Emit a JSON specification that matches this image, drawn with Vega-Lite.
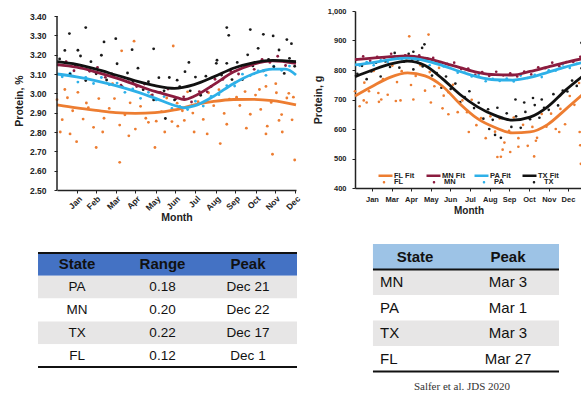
{
  "$schema": "https://vega.github.io/schema/vega-lite/v6.json",
  "background": "white",
  "padding": {"left": 14, "top": 7, "right": 0, "bottom": 0},
  "config": {
    "view": {"stroke": null},
    "font": "Liberation Sans",
    "axis": {"grid": false, "labelColor": "#222", "titleColor": "#222", "domainColor": "#222", "tickColor": "#222", "labelFontWeight": "bold", "titleFontWeight": "bold", "domainWidth": 1.5, "tickWidth": 1, "tickCount": 30, "labelOverlap": false}
  },
  "datasets": {
    "pctFit": [
      {"fit":"FL Fit","day":0,"protein":2.940},{"fit":"FL Fit","day":30,"protein":2.925},{"fit":"FL Fit","day":60,"protein":2.912},{"fit":"FL Fit","day":90,"protein":2.900},{"fit":"FL Fit","day":120,"protein":2.896},{"fit":"FL Fit","day":150,"protein":2.900},{"fit":"FL Fit","day":180,"protein":2.914},{"fit":"FL Fit","day":210,"protein":2.940},{"fit":"FL Fit","day":240,"protein":2.958},{"fit":"FL Fit","day":270,"protein":2.968},{"fit":"FL Fit","day":300,"protein":2.969},{"fit":"FL Fit","day":330,"protein":2.962},{"fit":"FL Fit","day":366,"protein":2.940},
      {"fit":"MN Fit","day":0,"protein":3.148},{"fit":"MN Fit","day":30,"protein":3.135},{"fit":"MN Fit","day":60,"protein":3.110},{"fit":"MN Fit","day":90,"protein":3.080},{"fit":"MN Fit","day":120,"protein":3.045},{"fit":"MN Fit","day":150,"protein":3.010},{"fit":"MN Fit","day":180,"protein":2.982},{"fit":"MN Fit","day":195,"protein":2.968},{"fit":"MN Fit","day":210,"protein":2.985},{"fit":"MN Fit","day":240,"protein":3.045},{"fit":"MN Fit","day":270,"protein":3.110},{"fit":"MN Fit","day":300,"protein":3.150},{"fit":"MN Fit","day":330,"protein":3.168},{"fit":"MN Fit","day":366,"protein":3.155},
      {"fit":"PA Fit","day":0,"protein":3.100},{"fit":"PA Fit","day":30,"protein":3.085},{"fit":"PA Fit","day":60,"protein":3.065},{"fit":"PA Fit","day":90,"protein":3.040},{"fit":"PA Fit","day":120,"protein":3.010},{"fit":"PA Fit","day":150,"protein":2.975},{"fit":"PA Fit","day":180,"protein":2.937},{"fit":"PA Fit","day":195,"protein":2.925},{"fit":"PA Fit","day":210,"protein":2.935},{"fit":"PA Fit","day":240,"protein":2.985},{"fit":"PA Fit","day":270,"protein":3.050},{"fit":"PA Fit","day":300,"protein":3.100},{"fit":"PA Fit","day":330,"protein":3.125},{"fit":"PA Fit","day":350,"protein":3.125},{"fit":"PA Fit","day":366,"protein":3.095},
      {"fit":"TX Fit","day":0,"protein":3.164},{"fit":"TX Fit","day":30,"protein":3.150},{"fit":"TX Fit","day":60,"protein":3.125},{"fit":"TX Fit","day":90,"protein":3.095},{"fit":"TX Fit","day":120,"protein":3.065},{"fit":"TX Fit","day":150,"protein":3.040},{"fit":"TX Fit","day":180,"protein":3.026},{"fit":"TX Fit","day":210,"protein":3.045},{"fit":"TX Fit","day":240,"protein":3.085},{"fit":"TX Fit","day":270,"protein":3.130},{"fit":"TX Fit","day":300,"protein":3.158},{"fit":"TX Fit","day":330,"protein":3.170},{"fit":"TX Fit","day":366,"protein":3.164}
    ],
    "pctPoints": [
      {"state":"FL","day":0,"protein":2.967},{"state":"FL","day":8,"protein":2.864},{"state":"FL","day":16,"protein":2.977},{"state":"FL","day":24,"protein":2.910},{"state":"FL","day":32,"protein":3.005},{"state":"FL","day":40,"protein":2.867},{"state":"FL","day":48,"protein":2.926},{"state":"FL","day":56,"protein":2.824},{"state":"FL","day":64,"protein":2.973},{"state":"FL","day":72,"protein":2.871},{"state":"FL","day":80,"protein":2.922},{"state":"FL","day":88,"protein":2.973},{"state":"FL","day":96,"protein":2.836},{"state":"FL","day":104,"protein":2.889},{"state":"FL","day":112,"protein":2.951},{"state":"FL","day":120,"protein":2.815},{"state":"FL","day":128,"protein":2.933},{"state":"FL","day":136,"protein":2.871},{"state":"FL","day":144,"protein":2.989},{"state":"FL","day":152,"protein":2.856},{"state":"FL","day":160,"protein":2.905},{"state":"FL","day":168,"protein":2.976},{"state":"FL","day":176,"protein":2.854},{"state":"FL","day":184,"protein":2.949},{"state":"FL","day":192,"protein":2.910},{"state":"FL","day":200,"protein":3.008},{"state":"FL","day":208,"protein":2.898},{"state":"FL","day":216,"protein":2.957},{"state":"FL","day":224,"protein":2.865},{"state":"FL","day":232,"protein":3.003},{"state":"FL","day":240,"protein":2.936},{"state":"FL","day":248,"protein":3.019},{"state":"FL","day":256,"protein":2.896},{"state":"FL","day":264,"protein":2.970},{"state":"FL","day":272,"protein":3.054},{"state":"FL","day":280,"protein":2.937},{"state":"FL","day":288,"protein":3.009},{"state":"FL","day":296,"protein":2.892},{"state":"FL","day":304,"protein":2.991},{"state":"FL","day":312,"protein":2.917},{"state":"FL","day":320,"protein":3.036},{"state":"FL","day":328,"protein":2.953},{"state":"FL","day":336,"protein":3.003},{"state":"FL","day":344,"protein":2.890},{"state":"FL","day":352,"protein":2.976},{"state":"FL","day":360,"protein":2.863},
      {"state":"FL","day":96,"protein":2.643},{"state":"FL","day":364,"protein":2.655},{"state":"FL","day":118,"protein":3.27},{"state":"FL","day":178,"protein":3.245},{"state":"FL","day":99,"protein":3.22},{"state":"FL","day":30,"protein":2.75},{"state":"FL","day":150,"protein":2.72},{"state":"FL","day":250,"protein":2.74},{"state":"FL","day":320,"protein":2.79},{"state":"FL","day":330,"protein":2.685},{"state":"FL","day":210,"protein":2.80},{"state":"FL","day":60,"protein":2.72},{"state":"FL","day":20,"protein":2.79},{"state":"FL","day":340,"protein":2.86},{"state":"FL","day":5,"protein":2.80},{"state":"FL","day":12,"protein":3.02},{"state":"FL","day":45,"protein":2.95},{"state":"FL","day":70,"protein":2.80},{"state":"FL","day":85,"protein":3.05},{"state":"FL","day":110,"protein":2.78},{"state":"FL","day":140,"protein":2.85},{"state":"FL","day":165,"protein":2.80},{"state":"FL","day":185,"protein":2.83},{"state":"FL","day":195,"protein":2.86},{"state":"FL","day":230,"protein":2.79},{"state":"FL","day":260,"protein":2.84},{"state":"FL","day":275,"protein":2.98},{"state":"FL","day":290,"protein":2.82},{"state":"FL","day":310,"protein":3.02},{"state":"FL","day":322,"protein":2.83},{"state":"FL","day":335,"protein":3.05},{"state":"FL","day":345,"protein":2.80},{"state":"FL","day":355,"protein":3.00},{"state":"FL","day":362,"protein":2.98},
      {"state":"MN","day":2,"protein":3.147},{"state":"MN","day":14,"protein":3.164},{"state":"MN","day":26,"protein":3.117},{"state":"MN","day":38,"protein":3.139},{"state":"MN","day":50,"protein":3.114},{"state":"MN","day":62,"protein":3.134},{"state":"MN","day":74,"protein":3.083},{"state":"MN","day":86,"protein":3.089},{"state":"MN","day":98,"protein":3.042},{"state":"MN","day":110,"protein":3.073},{"state":"MN","day":122,"protein":3.035},{"state":"MN","day":134,"protein":3.048},{"state":"MN","day":146,"protein":2.992},{"state":"MN","day":158,"protein":3.005},{"state":"MN","day":170,"protein":3.022},{"state":"MN","day":182,"protein":2.972},{"state":"MN","day":194,"protein":2.982},{"state":"MN","day":206,"protein":2.955},{"state":"MN","day":218,"protein":3.009},{"state":"MN","day":230,"protein":3.008},{"state":"MN","day":242,"protein":3.073},{"state":"MN","day":254,"protein":3.072},{"state":"MN","day":266,"protein":3.116},{"state":"MN","day":278,"protein":3.100},{"state":"MN","day":290,"protein":3.146},{"state":"MN","day":302,"protein":3.124},{"state":"MN","day":314,"protein":3.176},{"state":"MN","day":326,"protein":3.160},{"state":"MN","day":338,"protein":3.192},{"state":"MN","day":350,"protein":3.144},{"state":"MN","day":362,"protein":3.159},
      {"state":"PA","day":8,"protein":3.086},{"state":"PA","day":20,"protein":3.104},{"state":"PA","day":32,"protein":3.058},{"state":"PA","day":44,"protein":3.083},{"state":"PA","day":56,"protein":3.051},{"state":"PA","day":68,"protein":3.082},{"state":"PA","day":80,"protein":3.045},{"state":"PA","day":92,"protein":3.053},{"state":"PA","day":104,"protein":3.005},{"state":"PA","day":116,"protein":3.023},{"state":"PA","day":128,"protein":2.974},{"state":"PA","day":140,"protein":3.005},{"state":"PA","day":152,"protein":2.966},{"state":"PA","day":164,"protein":2.983},{"state":"PA","day":176,"protein":2.922},{"state":"PA","day":188,"protein":2.933},{"state":"PA","day":200,"protein":2.916},{"state":"PA","day":212,"protein":2.959},{"state":"PA","day":224,"protein":2.934},{"state":"PA","day":236,"protein":2.984},{"state":"PA","day":248,"protein":2.993},{"state":"PA","day":260,"protein":3.040},{"state":"PA","day":272,"protein":3.038},{"state":"PA","day":284,"protein":3.099},{"state":"PA","day":296,"protein":3.092},{"state":"PA","day":308,"protein":3.116},{"state":"PA","day":320,"protein":3.093},{"state":"PA","day":332,"protein":3.140},{"state":"PA","day":344,"protein":3.119},{"state":"PA","day":356,"protein":3.141},
      {"state":"TX","day":4,"protein":3.178},{"state":"TX","day":12,"protein":3.222},{"state":"TX","day":20,"protein":3.099},{"state":"TX","day":28,"protein":3.143},{"state":"TX","day":36,"protein":3.193},{"state":"TX","day":44,"protein":3.066},{"state":"TX","day":52,"protein":3.164},{"state":"TX","day":60,"protein":3.101},{"state":"TX","day":68,"protein":3.197},{"state":"TX","day":76,"protein":3.069},{"state":"TX","day":84,"protein":3.101},{"state":"TX","day":92,"protein":3.153},{"state":"TX","day":100,"protein":3.033},{"state":"TX","day":108,"protein":3.105},{"state":"TX","day":116,"protein":3.057},{"state":"TX","day":124,"protein":3.130},{"state":"TX","day":132,"protein":3.019},{"state":"TX","day":140,"protein":3.060},{"state":"TX","day":148,"protein":2.966},{"state":"TX","day":156,"protein":3.081},{"state":"TX","day":164,"protein":3.013},{"state":"TX","day":172,"protein":3.082},{"state":"TX","day":180,"protein":2.966},{"state":"TX","day":188,"protein":3.035},{"state":"TX","day":196,"protein":3.112},{"state":"TX","day":204,"protein":3.013},{"state":"TX","day":212,"protein":3.084},{"state":"TX","day":220,"protein":2.990},{"state":"TX","day":228,"protein":3.089},{"state":"TX","day":236,"protein":3.036},{"state":"TX","day":244,"protein":3.155},{"state":"TX","day":252,"protein":3.095},{"state":"TX","day":260,"protein":3.155},{"state":"TX","day":268,"protein":3.071},{"state":"TX","day":276,"protein":3.160},{"state":"TX","day":284,"protein":3.071},{"state":"TX","day":292,"protein":3.199},{"state":"TX","day":300,"protein":3.142},{"state":"TX","day":308,"protein":3.233},{"state":"TX","day":316,"protein":3.116},{"state":"TX","day":324,"protein":3.176},{"state":"TX","day":332,"protein":3.138},{"state":"TX","day":340,"protein":3.224},{"state":"TX","day":348,"protein":3.103},{"state":"TX","day":356,"protein":3.181},{"state":"TX","day":364,"protein":3.140},
      {"state":"TX","day":19,"protein":3.309},{"state":"TX","day":44,"protein":3.34},{"state":"TX","day":72,"protein":3.266},{"state":"TX","day":90,"protein":3.283},{"state":"TX","day":115,"protein":3.226},{"state":"TX","day":148,"protein":3.23},{"state":"TX","day":202,"protein":3.16},{"state":"TX","day":260,"protein":3.34},{"state":"TX","day":263,"protein":3.30},{"state":"TX","day":296,"protein":3.33},{"state":"TX","day":316,"protein":3.305},{"state":"TX","day":331,"protein":3.297},{"state":"TX","day":352,"protein":3.278},{"state":"TX","day":359,"protein":3.257},{"state":"TX","day":32,"protein":3.223},{"state":"TX","day":245,"protein":3.171},{"state":"TX","day":184,"protein":3.068},{"state":"TX","day":166,"protein":2.87}
    ],
    "gFit": [
      {"fit":"FL Fit","day":0,"protein":712},{"fit":"FL Fit","day":30,"protein":745},{"fit":"FL Fit","day":60,"protein":775},{"fit":"FL Fit","day":90,"protein":790},{"fit":"FL Fit","day":120,"protein":780},{"fit":"FL Fit","day":150,"protein":745},{"fit":"FL Fit","day":180,"protein":685},{"fit":"FL Fit","day":210,"protein":635},{"fit":"FL Fit","day":240,"protein":605},{"fit":"FL Fit","day":270,"protein":587},{"fit":"FL Fit","day":300,"protein":590},{"fit":"FL Fit","day":330,"protein":615},{"fit":"FL Fit","day":360,"protein":665},{"fit":"FL Fit","day":389,"protein":715},
      {"fit":"MN Fit","day":0,"protein":835},{"fit":"MN Fit","day":30,"protein":840},{"fit":"MN Fit","day":60,"protein":845},{"fit":"MN Fit","day":90,"protein":848},{"fit":"MN Fit","day":120,"protein":840},{"fit":"MN Fit","day":150,"protein":825},{"fit":"MN Fit","day":180,"protein":808},{"fit":"MN Fit","day":210,"protein":792},{"fit":"MN Fit","day":240,"protein":784},{"fit":"MN Fit","day":270,"protein":783},{"fit":"MN Fit","day":300,"protein":795},{"fit":"MN Fit","day":330,"protein":810},{"fit":"MN Fit","day":360,"protein":825},{"fit":"MN Fit","day":389,"protein":838},
      {"fit":"PA Fit","day":0,"protein":817},{"fit":"PA Fit","day":30,"protein":825},{"fit":"PA Fit","day":60,"protein":835},{"fit":"PA Fit","day":90,"protein":840},{"fit":"PA Fit","day":120,"protein":832},{"fit":"PA Fit","day":150,"protein":815},{"fit":"PA Fit","day":180,"protein":795},{"fit":"PA Fit","day":210,"protein":777},{"fit":"PA Fit","day":240,"protein":767},{"fit":"PA Fit","day":270,"protein":766},{"fit":"PA Fit","day":300,"protein":775},{"fit":"PA Fit","day":330,"protein":792},{"fit":"PA Fit","day":360,"protein":810},{"fit":"PA Fit","day":389,"protein":825},
      {"fit":"TX Fit","day":0,"protein":777},{"fit":"TX Fit","day":30,"protein":800},{"fit":"TX Fit","day":60,"protein":820},{"fit":"TX Fit","day":90,"protein":830},{"fit":"TX Fit","day":120,"protein":815},{"fit":"TX Fit","day":150,"protein":770},{"fit":"TX Fit","day":180,"protein":717},{"fit":"TX Fit","day":210,"protein":675},{"fit":"TX Fit","day":240,"protein":646},{"fit":"TX Fit","day":270,"protein":630},{"fit":"TX Fit","day":300,"protein":640},{"fit":"TX Fit","day":330,"protein":675},{"fit":"TX Fit","day":360,"protein":730},{"fit":"TX Fit","day":389,"protein":777}
    ],
    "gPoints": [
      {"state":"FL","day":0,"protein":728},{"state":"FL","day":8,"protein":677},{"state":"FL","day":16,"protein":757},{"state":"FL","day":24,"protein":728},{"state":"FL","day":32,"protein":797},{"state":"FL","day":40,"protein":722},{"state":"FL","day":48,"protein":769},{"state":"FL","day":56,"protein":716},{"state":"FL","day":64,"protein":815},{"state":"FL","day":72,"protein":759},{"state":"FL","day":80,"protein":796},{"state":"FL","day":88,"protein":833},{"state":"FL","day":96,"protein":749},{"state":"FL","day":104,"protein":780},{"state":"FL","day":112,"protein":816},{"state":"FL","day":120,"protein":730},{"state":"FL","day":128,"protein":793},{"state":"FL","day":136,"protein":745},{"state":"FL","day":144,"protein":807},{"state":"FL","day":152,"protein":713},{"state":"FL","day":160,"protein":725},{"state":"FL","day":168,"protein":750},{"state":"FL","day":176,"protein":657},{"state":"FL","day":184,"protein":697},{"state":"FL","day":192,"protein":657},{"state":"FL","day":200,"protein":699},{"state":"FL","day":208,"protein":613},{"state":"FL","day":216,"protein":637},{"state":"FL","day":224,"protein":569},{"state":"FL","day":232,"protein":643},{"state":"FL","day":240,"protein":591},{"state":"FL","day":248,"protein":636},{"state":"FL","day":256,"protein":554},{"state":"FL","day":264,"protein":594},{"state":"FL","day":272,"protein":639},{"state":"FL","day":280,"protein":569},{"state":"FL","day":288,"protein":614},{"state":"FL","day":296,"protein":543},{"state":"FL","day":304,"protein":607},{"state":"FL","day":312,"protein":570},{"state":"FL","day":320,"protein":651},{"state":"FL","day":328,"protein":608},{"state":"FL","day":336,"protein":652},{"state":"FL","day":344,"protein":600},{"state":"FL","day":352,"protein":668},{"state":"FL","day":360,"protein":616},{"state":"FL","day":368,"protein":712},{"state":"FL","day":376,"protein":682},{"state":"FL","day":384,"protein":756},
      {"state":"FL","day":93,"protein":914},{"state":"FL","day":126,"protein":920},{"state":"FL","day":244,"protein":505},{"state":"FL","day":266,"protein":522},{"state":"FL","day":307,"protein":507},{"state":"FL","day":387,"protein":482},{"state":"FL","day":386,"protein":545},{"state":"FL","day":250,"protein":506},{"state":"FL","day":15,"protein":697},{"state":"FL","day":41,"protein":692},{"state":"FL","day":78,"protein":697},{"state":"FL","day":20,"protein":690},{"state":"FL","day":45,"protein":700},{"state":"FL","day":70,"protein":695},{"state":"FL","day":100,"protein":700},{"state":"FL","day":130,"protein":690},{"state":"FL","day":150,"protein":670},{"state":"FL","day":160,"protein":650},{"state":"FL","day":195,"protein":590},{"state":"FL","day":253,"protein":530},{"state":"FL","day":280,"protein":540},{"state":"FL","day":310,"protein":560},{"state":"FL","day":350,"protein":590},{"state":"FL","day":385,"protein":590},
      {"state":"MN","day":2,"protein":835},{"state":"MN","day":14,"protein":846},{"state":"MN","day":26,"protein":831},{"state":"MN","day":38,"protein":845},{"state":"MN","day":50,"protein":841},{"state":"MN","day":62,"protein":855},{"state":"MN","day":74,"protein":841},{"state":"MN","day":86,"protein":850},{"state":"MN","day":98,"protein":835},{"state":"MN","day":110,"protein":850},{"state":"MN","day":122,"protein":836},{"state":"MN","day":134,"protein":841},{"state":"MN","day":146,"protein":818},{"state":"MN","day":158,"protein":821},{"state":"MN","day":170,"protein":825},{"state":"MN","day":182,"protein":803},{"state":"MN","day":194,"protein":805},{"state":"MN","day":206,"protein":784},{"state":"MN","day":218,"protein":793},{"state":"MN","day":230,"protein":780},{"state":"MN","day":242,"protein":794},{"state":"MN","day":254,"protein":782},{"state":"MN","day":266,"protein":789},{"state":"MN","day":278,"protein":778},{"state":"MN","day":290,"protein":795},{"state":"MN","day":302,"protein":785},{"state":"MN","day":314,"protein":809},{"state":"MN","day":326,"protein":806},{"state":"MN","day":338,"protein":825},{"state":"MN","day":350,"protein":813},{"state":"MN","day":362,"protein":827},{"state":"MN","day":374,"protein":827},{"state":"MN","day":386,"protein":845},
      {"state":"PA","day":8,"protein":815},{"state":"PA","day":20,"protein":827},{"state":"PA","day":32,"protein":816},{"state":"PA","day":44,"protein":833},{"state":"PA","day":56,"protein":827},{"state":"PA","day":68,"protein":846},{"state":"PA","day":80,"protein":837},{"state":"PA","day":92,"protein":845},{"state":"PA","day":104,"protein":828},{"state":"PA","day":116,"protein":837},{"state":"PA","day":128,"protein":816},{"state":"PA","day":140,"protein":828},{"state":"PA","day":152,"protein":812},{"state":"PA","day":164,"protein":817},{"state":"PA","day":176,"protein":791},{"state":"PA","day":188,"protein":791},{"state":"PA","day":200,"protein":778},{"state":"PA","day":212,"protein":784},{"state":"PA","day":224,"protein":762},{"state":"PA","day":236,"protein":770},{"state":"PA","day":248,"protein":763},{"state":"PA","day":260,"protein":771},{"state":"PA","day":272,"protein":761},{"state":"PA","day":284,"protein":781},{"state":"PA","day":296,"protein":773},{"state":"PA","day":308,"protein":784},{"state":"PA","day":320,"protein":776},{"state":"PA","day":332,"protein":799},{"state":"PA","day":344,"protein":798},{"state":"PA","day":356,"protein":819},{"state":"PA","day":368,"protein":807},{"state":"PA","day":380,"protein":821},
      {"state":"TX","day":4,"protein":787},{"state":"TX","day":12,"protein":814},{"state":"TX","day":20,"protein":769},{"state":"TX","day":28,"protein":795},{"state":"TX","day":36,"protein":825},{"state":"TX","day":44,"protein":778},{"state":"TX","day":52,"protein":829},{"state":"TX","day":60,"protein":810},{"state":"TX","day":68,"protein":858},{"state":"TX","day":76,"protein":808},{"state":"TX","day":84,"protein":828},{"state":"TX","day":92,"protein":855},{"state":"TX","day":100,"protein":802},{"state":"TX","day":108,"protein":833},{"state":"TX","day":116,"protein":812},{"state":"TX","day":124,"protein":839},{"state":"TX","day":132,"protein":781},{"state":"TX","day":140,"protein":790},{"state":"TX","day":148,"protein":740},{"state":"TX","day":156,"protein":778},{"state":"TX","day":164,"protein":736},{"state":"TX","day":172,"protein":754},{"state":"TX","day":180,"protein":691},{"state":"TX","day":188,"protein":708},{"state":"TX","day":196,"protein":728},{"state":"TX","day":204,"protein":671},{"state":"TX","day":212,"protein":689},{"state":"TX","day":220,"protein":635},{"state":"TX","day":228,"protein":667},{"state":"TX","day":236,"protein":631},{"state":"TX","day":244,"protein":672},{"state":"TX","day":252,"protein":637},{"state":"TX","day":260,"protein":653},{"state":"TX","day":268,"protein":607},{"state":"TX","day":276,"protein":643},{"state":"TX","day":284,"protein":604},{"state":"TX","day":292,"protein":658},{"state":"TX","day":300,"protein":633},{"state":"TX","day":308,"protein":681},{"state":"TX","day":316,"protein":638},{"state":"TX","day":324,"protein":672},{"state":"TX","day":332,"protein":665},{"state":"TX","day":340,"protein":718},{"state":"TX","day":348,"protein":680},{"state":"TX","day":356,"protein":730},{"state":"TX","day":364,"protein":727},{"state":"TX","day":372,"protein":764},{"state":"TX","day":380,"protein":746},{"state":"TX","day":388,"protein":806},
      {"state":"TX","day":388,"protein":892},{"state":"TX","day":119,"protein":887},{"state":"TX","day":115,"protein":875},{"state":"TX","day":100,"protein":862},{"state":"TX","day":275,"protein":700},{"state":"TX","day":290,"protein":690},{"state":"TX","day":305,"protein":705},{"state":"TX","day":320,"protein":700},{"state":"TX","day":240,"protein":580},{"state":"TX","day":250,"protein":570},{"state":"TX","day":230,"protein":600}
    ],
    "leftTable": [
      {"row":0,"col":0,"text":"State"},{"row":0,"col":1,"text":"Range"},{"row":0,"col":2,"text":"Peak"},
      {"row":1,"col":0,"text":"PA"},{"row":1,"col":1,"text":"0.18"},{"row":1,"col":2,"text":"Dec 21"},
      {"row":2,"col":0,"text":"MN"},{"row":2,"col":1,"text":"0.20"},{"row":2,"col":2,"text":"Dec 22"},
      {"row":3,"col":0,"text":"TX"},{"row":3,"col":1,"text":"0.22"},{"row":3,"col":2,"text":"Dec 17"},
      {"row":4,"col":0,"text":"FL"},{"row":4,"col":1,"text":"0.12"},{"row":4,"col":2,"text":"Dec 1"}
    ],
    "rightTable": [
      {"row":0,"col":0,"text":"State"},{"row":0,"col":1,"text":"Peak"},
      {"row":1,"col":0,"text":"MN"},{"row":1,"col":1,"text":"Mar 3"},
      {"row":2,"col":0,"text":"PA"},{"row":2,"col":1,"text":"Mar 1"},
      {"row":3,"col":0,"text":"TX"},{"row":3,"col":1,"text":"Mar 3"},
      {"row":4,"col":0,"text":"FL"},{"row":4,"col":1,"text":"Mar 27"}
    ]
  },
  "resolve": {"scale": {"color": "independent", "fill": "independent"}},
  "spacing": 11,
  "hconcat": [
    {
      "spacing": 28,
      "vconcat": [
        {
          "width": 239,
          "height": 179,
          "layer": [
            {
              "data": {"name": "pctPoints"},
              "mark": {"type": "circle", "size": 8, "opacity": 1},
              "encoding": {
                "x": {"field": "day", "type": "quantitative", "scale": {"domain": [0, 366], "nice": false, "zero": false},
                  "axis": {"values": [31,59,90,120,151,181,212,243,273,304,334,365], "labelExpr": "timeFormat(datetime(2021,0,datum.value),'%b')", "labelAngle": -45, "labelFontSize": 8.5, "labelPadding": 1, "tickSize": 3, "title": "Month", "titleFontSize": 10.5, "titlePadding": 1}},
                "y": {"field": "protein", "type": "quantitative", "scale": {"domain": [2.5, 3.4259], "nice": false, "zero": false},
                  "axis": {"values": [2.5,2.6,2.7,2.8,2.9,3.0,3.1,3.2,3.3,3.4], "labelExpr": "format(datum.value, '.2f')", "domain": false, "labelFontSize": 8.5, "labelPadding": 8, "tickSize": 3, "title": "Protein, %", "titleFontSize": 10.5, "titlePadding": 5}},
                "fill": {"field": "state", "type": "nominal", "scale": {"domain": ["FL","MN","PA","TX"], "range": ["#ED7D31","#8B1C3F","#2EB0E8","#1A1A1A"]}, "legend": null}
              }
            },
            {
              "data": {"name": "pctFit"},
              "mark": {"type": "line", "interpolate": "monotone", "strokeWidth": 2.8},
              "encoding": {
                "x": {"field": "day", "type": "quantitative"},
                "y": {"field": "protein", "type": "quantitative"},
                "color": {"field": "fit", "type": "nominal", "scale": {"domain": ["FL Fit","MN Fit","PA Fit","TX Fit"], "range": ["#ED7D31","#8B1C3F","#2EB0E8","#111111"]}, "legend": null}
              }
            },
            {
              "data": {"values": [{}]},
              "mark": {"type": "rule", "color": "#222222", "strokeWidth": 1.5},
              "encoding": {
                "x": {"datum": 0, "type": "quantitative"},
                "y": {"datum": 2.5, "type": "quantitative"},
                "y2": {"datum": 3.4}
              }
            }
          ]
        },
        {
          "width": 240,
          "height": 114,
          "data": {"name": "leftTable"},
          "encoding": {
            "y": {"field": "row", "type": "ordinal", "scale": {"domain": [0,1,2,3,4], "paddingInner": 0, "paddingOuter": 0}, "axis": null}
          },
          "layer": [
            {
              "transform": [{"filter": "datum.col == 0"}],
              "mark": {"type": "rect"},
              "encoding": {
                "x": {"datum": -0.456, "type": "quantitative", "scale": {"domain": [-0.234, 2.573], "nice": false, "zero": false}, "axis": null},
                "x2": {"datum": 2.573},
                "fill": {"condition": [{"test": "datum.row == 0", "value": "#4472C4"}, {"test": "datum.row % 2 == 1", "value": "#E7E6E6"}], "value": "#FFFFFF"}
              }
            },
            {
              "transform": [{"filter": "datum.col == 0 && datum.row == 0"}],
              "mark": {"type": "rule", "color": "#111111", "strokeWidth": 2},
              "encoding": {
                "x": {"datum": -0.456, "type": "quantitative"},
                "x2": {"datum": 2.573},
                "y": {"field": "row", "type": "ordinal", "bandPosition": 0}
              }
            },
            {
              "transform": [{"filter": "datum.col == 0 && datum.row == 4"}],
              "mark": {"type": "rule", "color": "#111111", "strokeWidth": 2},
              "encoding": {
                "x": {"datum": -0.456, "type": "quantitative"},
                "x2": {"datum": 2.573},
                "y": {"field": "row", "type": "ordinal", "bandPosition": 1}
              }
            },
            {
              "transform": [{"filter": "datum.row == 0"}],
              "mark": {"type": "text", "fontSize": 15, "fontWeight": "bold", "color": "#111111"},
              "encoding": {
                "x": {"field": "col", "type": "quantitative"},
                "text": {"field": "text"}
              }
            },
            {
              "transform": [{"filter": "datum.row > 0"}],
              "mark": {"type": "text", "fontSize": 13.5, "color": "#111111"},
              "encoding": {
                "x": {"field": "col", "type": "quantitative"},
                "text": {"field": "text"}
              }
            }
          ]
        }
      ]
    },
    {
      "spacing": 28,
      "vconcat": [
        {
          "width": 227,
          "height": 177,
          "layer": [
            {
              "data": {"name": "gPoints"},
              "mark": {"type": "circle", "size": 7, "opacity": 1},
              "encoding": {
                "x": {"field": "day", "type": "quantitative", "scale": {"domain": [0, 389], "nice": false, "zero": false},
                  "axis": {"values": [29,63,96,130,163,197,231,264,298,332,365], "labelExpr": "['Jan','Mar','Apr','May','Jun','Jul','Aug','Sep','Oct','Nov','Dec'][round((datum.value-29)/33.6)]", "labelAngle": 0, "labelFontSize": 7.5, "labelPadding": 4, "tickSize": 3, "title": "Month", "titleFontSize": 10, "titlePadding": 3}},
                "y": {"field": "protein", "type": "quantitative", "scale": {"domain": [400, 1000], "nice": false, "zero": false},
                  "axis": {"values": [400,500,600,700,800,900,1000], "labelExpr": "format(datum.value, ',')", "labelFontSize": 7.5, "labelPadding": 6, "tickSize": 3, "title": "Protein, g", "titleFontSize": 10.5, "titlePadding": 4}},
                "fill": {"field": "state", "type": "nominal", "scale": {"domain": ["FL","MN","PA","TX"], "range": ["#ED7D31","#8B1C3F","#2EB0E8","#1A1A1A"]},
                  "legend": {"title": null, "orient": "none", "legendX": 22, "legendY": 164, "direction": "horizontal", "columns": 4, "gridAlign": "all", "padding": 0, "rowPadding": 0, "columnPadding": 21, "symbolType": "M-0.18,0a0.18,0.18 0 1,0 0.36,0a0.18,0.18 0 1,0 -0.36,0", "symbolSize": 196, "symbolStrokeWidth": 0, "labelFontSize": 7.5, "labelFontWeight": "bold", "labelColor": "#222", "labelOffset": 3}}
              }
            },
            {
              "data": {"name": "gFit"},
              "mark": {"type": "line", "interpolate": "monotone", "strokeWidth": 2.8},
              "encoding": {
                "x": {"field": "day", "type": "quantitative"},
                "y": {"field": "protein", "type": "quantitative"},
                "color": {"field": "fit", "type": "nominal", "scale": {"domain": ["FL Fit","MN Fit","PA Fit","TX Fit"], "range": ["#ED7D31","#8B1C3F","#2EB0E8","#111111"]},
                  "legend": {"title": null, "orient": "none", "legendX": 22, "legendY": 156, "direction": "horizontal", "columns": 4, "gridAlign": "all", "padding": 0, "rowPadding": 0, "columnPadding": 4, "symbolType": "stroke", "symbolSize": 196, "symbolStrokeWidth": 2.5, "labelFontSize": 7.5, "labelFontWeight": "bold", "labelColor": "#222", "labelOffset": 0}}
              }
            }
          ]
        },
        {
          "width": 204,
          "height": 127.5,
          "data": {"name": "rightTable"},
          "title": {"text": "Salfer et al. JDS 2020", "orient": "bottom", "anchor": "middle", "dx": 5, "offset": 8, "font": "Liberation Serif", "fontSize": 11, "fontWeight": "normal", "color": "#333333"},
          "encoding": {
            "y": {"field": "row", "type": "ordinal", "scale": {"domain": [0,1,2,3,4], "paddingInner": 0, "paddingOuter": 0}, "axis": null}
          },
          "layer": [
            {
              "transform": [{"filter": "datum.col == 0"}],
              "mark": {"type": "rect"},
              "encoding": {
                "x": {"datum": -0.452, "type": "quantitative", "scale": {"domain": [-0.645, 1.548], "nice": false, "zero": false}, "axis": null},
                "x2": {"datum": 1.548},
                "fill": {"condition": [{"test": "datum.row == 0", "value": "#9DC3E6"}, {"test": "datum.row % 2 == 1", "value": "#E7E6E6"}], "value": "#FFFFFF"}
              }
            },
            {
              "transform": [{"filter": "datum.col == 0 && (datum.row == 0 || datum.row == 4)"}],
              "mark": {"type": "rule", "color": "#111111", "strokeWidth": 2},
              "encoding": {
                "x": {"datum": -0.452, "type": "quantitative"},
                "x2": {"datum": 1.548},
                "y": {"field": "row", "type": "ordinal", "bandPosition": 1}
              }
            },
            {
              "transform": [{"filter": "datum.row == 0"}],
              "mark": {"type": "text", "fontSize": 15, "fontWeight": "bold", "color": "#111111"},
              "encoding": {
                "x": {"field": "col", "type": "quantitative"},
                "text": {"field": "text"}
              }
            },
            {
              "transform": [{"filter": "datum.row > 0 && datum.col == 0"}],
              "mark": {"type": "text", "fontSize": 15, "color": "#111111", "align": "left", "dx": -35},
              "encoding": {
                "x": {"field": "col", "type": "quantitative"},
                "text": {"field": "text"}
              }
            },
            {
              "transform": [{"filter": "datum.row > 0 && datum.col == 1"}],
              "mark": {"type": "text", "fontSize": 15, "color": "#111111"},
              "encoding": {
                "x": {"field": "col", "type": "quantitative"},
                "text": {"field": "text"}
              }
            }
          ]
        }
      ]
    }
  ]
}
